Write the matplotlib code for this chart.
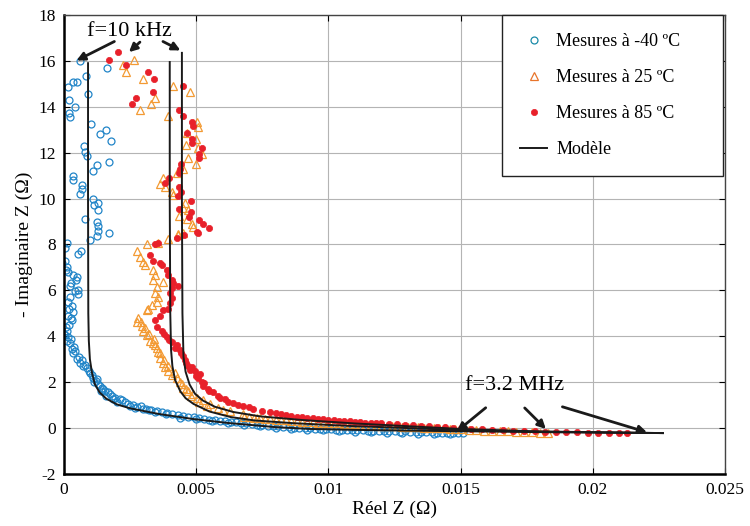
import numpy as np
import matplotlib
matplotlib.use('Agg')
import matplotlib.pyplot as plt

plt.rcParams['font.family'] = ['Liberation Serif', 'DejaVu Serif']
plt.rcParams['axes.unicode_minus'] = False

# Measurements at -40 C (Re, -Im)
m40_pts = [
    (0.00060, 16.0), (0.00049, 15.1), (0.00034, 15.1), (0.00015, 14.85), (0.00083, 15.35),
    (0.00091, 14.55), (0.00019, 14.3), (0.00042, 14.0), (0.00019, 13.75), (0.00023, 13.55),
    (0.00163, 15.7), (0.00102, 13.25), (0.00136, 12.8), (0.00159, 13.0), (0.00178, 12.5),
    (0.00076, 12.3), (0.00079, 12.05), (0.00087, 11.85), (0.00170, 11.6), (0.00125, 11.45),
    (0.00110, 11.2), (0.00034, 11.0), (0.00034, 10.8), (0.00068, 10.6), (0.00068, 10.4),
    (0.00060, 10.2), (0.00110, 10.0), (0.00129, 9.8), (0.00113, 9.7), (0.00129, 9.5),
    (0.00079, 9.1), (0.00125, 9.0), (0.00129, 8.8), (0.00129, 8.6), (0.00125, 8.35),
    (0.00170, 8.5), (0.00098, 8.2), (0.00011, 8.05),
    (0.00004, 7.85), (0.00053, 7.6), (0.00064, 7.7), (-0.00008, 7.2), (0.00004, 7.3),
    (0.00011, 7.0), (0.00015, 6.8), (0.00034, 6.65), (0.00049, 6.6), (0.00045, 6.45),
    (0.00023, 6.2), (0.00053, 6.0), (0.00053, 5.85), (0.00023, 5.7), (0.00015, 5.5),
    (0.00030, 5.3), (0.00034, 5.05), (0.00015, 4.9), (0.00030, 4.7), (0.00019, 4.5),
    (0.00011, 4.25), (0.00004, 4.05), (0.00011, 3.8), (0.00023, 3.7), (0.00030, 3.45),
    (0.00034, 3.25), (0.00049, 3.0), (0.00060, 2.85), (0.00072, 2.7), (0.00087, 2.6),
    (0.00098, 2.4), (0.00110, 2.2), (0.00125, 2.15), (0.00129, 1.9), (0.00144, 1.75),
    (0.00155, 1.6), (0.00174, 1.5), (0.00193, 1.3), (0.00219, 1.2), (0.00242, 1.05),
    (0.00276, 0.92), (0.00299, 0.83),
    (0.00008, 6.9), (0.00026, 6.3), (0.00040, 5.95), (0.00020, 5.2), (0.00026, 4.8),
    (0.00008, 4.4), (0.00000, 4.1), (0.00015, 3.95), (0.00038, 3.55), (0.00026, 3.9),
    (0.00042, 3.35), (0.00057, 3.1), (0.00068, 2.95), (0.00080, 2.75), (0.00095, 2.5),
    (0.00106, 2.3), (0.00120, 2.05), (0.00136, 1.85), (0.00148, 1.7), (0.00165, 1.55),
    (0.00182, 1.4), (0.00210, 1.25), (0.00230, 1.12), (0.00260, 1.0), (0.00290, 0.95),
    (0.00115, 2.0), (0.00140, 1.6), (0.00160, 1.4), (0.00185, 1.25), (0.00200, 1.15),
    (0.00250, 0.95), (0.00270, 0.88), (0.00320, 0.78), (0.00345, 0.72), (0.00385, 0.62),
    (0.0031, 0.85), (0.0033, 0.80), (0.0035, 0.74), (0.0037, 0.70), (0.0039, 0.66),
    (0.0041, 0.60), (0.0043, 0.58), (0.0045, 0.53), (0.0047, 0.50), (0.0049, 0.47),
    (0.0051, 0.43), (0.0053, 0.41), (0.0055, 0.37), (0.0057, 0.35), (0.0059, 0.32),
    (0.0061, 0.30), (0.0063, 0.27), (0.0065, 0.25), (0.0067, 0.22), (0.0069, 0.20),
    (0.0071, 0.18), (0.0073, 0.15), (0.0075, 0.13), (0.0077, 0.11), (0.0079, 0.10),
    (0.0081, 0.08), (0.0083, 0.05), (0.0085, 0.04), (0.0087, 0.02), (0.0089, 0.01),
    (0.0091, -0.01), (0.0093, -0.02), (0.0095, -0.03), (0.0097, -0.05), (0.0099, -0.04),
    (0.0101, -0.06), (0.0103, -0.07), (0.0105, -0.08), (0.0107, -0.07), (0.0109, -0.09),
    (0.0111, -0.10), (0.0113, -0.10), (0.0115, -0.12), (0.0117, -0.11), (0.0119, -0.13),
    (0.0121, -0.14), (0.0123, -0.13), (0.0125, -0.15), (0.0127, -0.16), (0.0129, -0.15),
    (0.0131, -0.17), (0.0133, -0.18), (0.0135, -0.17), (0.0137, -0.19), (0.0139, -0.18),
    (0.0141, -0.20), (0.0143, -0.21), (0.0145, -0.20), (0.0147, -0.22), (0.0149, -0.21),
    (0.0151, -0.23),
    (0.0044, 0.45), (0.0050, 0.38), (0.0056, 0.30), (0.0062, 0.22), (0.0068, 0.15),
    (0.0074, 0.08), (0.0080, 0.02), (0.0086, -0.03), (0.0092, -0.08), (0.0098, -0.10),
    (0.0104, -0.13), (0.0110, -0.16), (0.0116, -0.18), (0.0122, -0.20), (0.0128, -0.22),
    (0.0134, -0.24), (0.0140, -0.25), (0.0146, -0.26),
]

# Measurements at 25 C
m25_pts = [
    (0.00265, 16.05), (0.00223, 15.8), (0.00234, 15.5), (0.00299, 15.2), (0.00344, 14.4),
    (0.00329, 14.1), (0.00287, 13.85), (0.00412, 14.9), (0.00476, 14.65), (0.00393, 13.6),
    (0.00503, 13.35), (0.00507, 13.1), (0.00465, 12.85), (0.00499, 12.6), (0.00461, 12.35),
    (0.00507, 12.2), (0.00522, 11.95), (0.00469, 11.75), (0.00499, 11.5), (0.00450, 11.3),
    (0.00427, 11.1), (0.00374, 10.9), (0.00363, 10.65), (0.00382, 10.5), (0.00408, 10.3),
    (0.00412, 10.15), (0.00457, 9.8), (0.00450, 9.6), (0.00469, 9.5), (0.00435, 9.25),
    (0.00465, 9.1), (0.00484, 8.9), (0.00488, 8.75), (0.00450, 8.5), (0.00431, 8.4),
    (0.00431, 8.45), (0.00393, 8.25), (0.00314, 8.0), (0.00355, 8.05), (0.00276, 7.7),
    (0.00287, 7.45), (0.00299, 7.25), (0.00306, 7.1), (0.00336, 6.9), (0.00344, 6.65),
    (0.00336, 6.45), (0.00374, 6.35), (0.00352, 6.15), (0.00344, 5.9), (0.00355, 5.7),
    (0.00352, 5.5), (0.00333, 5.35), (0.00318, 5.2), (0.00314, 5.15),
    (0.00280, 4.8), (0.00276, 4.6), (0.00295, 4.45), (0.00299, 4.25), (0.00314, 4.05),
    (0.00325, 3.8), (0.00336, 3.7), (0.00352, 3.5), (0.00355, 3.3), (0.00363, 3.05),
    (0.00374, 2.85), (0.00382, 2.65), (0.00393, 2.5), (0.00408, 2.3), (0.00427, 2.2),
    (0.00438, 2.0), (0.00450, 1.75), (0.00469, 1.6), (0.00488, 1.5), (0.00503, 1.3),
    (0.00525, 1.2), (0.00552, 1.05), (0.00582, 0.88), (0.00627, 0.75), (0.00677, 0.6),
    (0.00730, 0.45),
    (0.00290, 4.6), (0.00305, 4.35), (0.00320, 4.1), (0.00340, 3.9), (0.00345, 3.6),
    (0.00365, 3.25), (0.00380, 2.95), (0.00395, 2.7), (0.00420, 2.4), (0.00445, 1.9),
    (0.00460, 1.7), (0.00480, 1.4), (0.00510, 1.15), (0.00540, 0.95), (0.00600, 0.80),
    (0.0068, 0.50), (0.0070, 0.47), (0.0072, 0.44), (0.0074, 0.42), (0.0076, 0.40),
    (0.0078, 0.38), (0.0080, 0.36), (0.0082, 0.34), (0.0084, 0.33), (0.0086, 0.31),
    (0.0088, 0.30), (0.0090, 0.28), (0.0092, 0.27), (0.0094, 0.26), (0.0096, 0.24),
    (0.0098, 0.23), (0.0100, 0.22), (0.0102, 0.20), (0.0104, 0.20), (0.0106, 0.18),
    (0.0108, 0.17), (0.0110, 0.16), (0.0112, 0.15), (0.0114, 0.13), (0.0116, 0.13),
    (0.0118, 0.11), (0.0120, 0.10), (0.0122, 0.09), (0.0124, 0.08), (0.0126, 0.07),
    (0.0128, 0.06), (0.0130, 0.05), (0.0132, 0.04), (0.0134, 0.03), (0.0136, 0.02),
    (0.0138, 0.01), (0.0140, 0.00), (0.0142, -0.01), (0.0144, -0.02), (0.0146, -0.04),
    (0.0148, -0.05), (0.0150, -0.06), (0.0153, -0.08), (0.0156, -0.10), (0.0159, -0.11),
    (0.0162, -0.13), (0.0165, -0.14), (0.0168, -0.15), (0.0171, -0.17), (0.0174, -0.18),
    (0.0177, -0.19), (0.0180, -0.20), (0.0183, -0.20),
]

# Measurements at 85 C
m85_pts = [
    (0.00204, 16.4), (0.00170, 16.05), (0.00234, 15.8), (0.00318, 15.5), (0.00340, 15.2),
    (0.00336, 14.65), (0.00272, 14.4), (0.00257, 14.1), (0.00450, 14.9), (0.00435, 13.85),
    (0.00450, 13.6), (0.00484, 13.35), (0.00488, 13.15), (0.00465, 12.85), (0.00484, 12.6),
    (0.00484, 12.4), (0.00522, 12.2), (0.00510, 11.95), (0.00510, 11.75), (0.00442, 11.5),
    (0.00438, 11.3), (0.00435, 11.1), (0.00397, 10.9), (0.00382, 10.7), (0.00435, 10.5),
    (0.00442, 10.3), (0.00431, 10.1), (0.00480, 9.9), (0.00435, 9.55), (0.00480, 9.4),
    (0.00473, 9.2), (0.00510, 9.05), (0.00525, 8.9), (0.00503, 8.55), (0.00548, 8.7),
    (0.00454, 8.4), (0.00427, 8.3),
    (0.00507, 8.5), (0.00355, 8.05), (0.00344, 8.0), (0.00325, 7.55), (0.00336, 7.3),
    (0.00363, 7.2), (0.00370, 7.1), (0.00389, 6.9), (0.00393, 6.65), (0.00408, 6.45),
    (0.00412, 6.3), (0.00431, 6.2), (0.00408, 6.1), (0.00401, 5.9), (0.00408, 5.65),
    (0.00401, 5.45), (0.00393, 5.2), (0.00374, 5.15), (0.00363, 4.9), (0.00344, 4.7),
    (0.00352, 4.4), (0.00370, 4.25), (0.00389, 3.95), (0.00408, 3.75), (0.00427, 3.6),
    (0.00438, 3.4), (0.00450, 3.15), (0.00457, 2.95), (0.00469, 2.7), (0.00484, 2.65),
    (0.00495, 2.5), (0.00514, 2.35), (0.00507, 2.2), (0.00522, 2.0), (0.00525, 1.85),
    (0.00544, 1.7), (0.00563, 1.55), (0.00582, 1.4), (0.00609, 1.25), (0.00639, 1.1),
    (0.00677, 0.95), (0.00714, 0.83),
    (0.00380, 4.1), (0.00398, 3.85), (0.00418, 3.5), (0.00442, 3.25), (0.00462, 2.85),
    (0.00476, 2.55), (0.00500, 2.25), (0.00530, 1.95), (0.00550, 1.6), (0.00590, 1.3),
    (0.00620, 1.15), (0.00660, 1.0), (0.00700, 0.90),
    (0.0075, 0.75), (0.0078, 0.68), (0.0080, 0.64), (0.0082, 0.60), (0.0084, 0.56),
    (0.0086, 0.52), (0.0088, 0.50), (0.0090, 0.47), (0.0092, 0.45), (0.0094, 0.42),
    (0.0096, 0.40), (0.0098, 0.38), (0.0100, 0.36), (0.0102, 0.34), (0.0104, 0.32),
    (0.0106, 0.30), (0.0108, 0.29), (0.0110, 0.27), (0.0112, 0.26), (0.0114, 0.24),
    (0.0116, 0.22), (0.0118, 0.21), (0.0120, 0.20), (0.0123, 0.18), (0.0126, 0.16),
    (0.0129, 0.14), (0.0132, 0.12), (0.0135, 0.10), (0.0138, 0.08), (0.0141, 0.06),
    (0.0144, 0.04), (0.0147, 0.02), (0.0150, 0.00), (0.0154, -0.03), (0.0158, -0.06),
    (0.0162, -0.08), (0.0166, -0.10), (0.0170, -0.12), (0.0174, -0.13), (0.0178, -0.15),
    (0.0182, -0.16), (0.0186, -0.17), (0.0190, -0.19), (0.0194, -0.19), (0.0198, -0.20),
    (0.0202, -0.20), (0.0206, -0.21), (0.0210, -0.21), (0.0213, -0.22),
]

# Model curves
model_m40 = [
    (0.00091, 15.9), (0.00091, 10.0), (0.00092, 5.0), (0.00094, 3.8), (0.00098, 3.0),
    (0.00106, 2.4), (0.00117, 1.9), (0.00135, 1.55), (0.00160, 1.28), (0.00200, 1.03),
    (0.00250, 0.86), (0.00360, 0.61), (0.00490, 0.39), (0.00620, 0.22), (0.00800, 0.04),
    (0.00930, -0.04), (0.01100, -0.08), (0.01300, -0.11), (0.01500, -0.14), (0.01900, -0.19),
    (0.02265, -0.22),
]
model_25 = [
    (0.00400, 15.95), (0.00400, 10.0), (0.00402, 5.0), (0.00405, 3.4), (0.00410, 2.7),
    (0.00420, 2.1), (0.00440, 1.6), (0.00460, 1.3), (0.00490, 1.05), (0.00550, 0.72),
    (0.00630, 0.48), (0.00720, 0.33), (0.00870, 0.21), (0.01100, 0.08), (0.01300, 0.00),
    (0.01500, -0.09), (0.01800, -0.16), (0.02265, -0.22),
]
model_85 = [
    (0.00446, 16.35), (0.00446, 10.0), (0.00448, 5.0), (0.00452, 3.1), (0.00460, 2.45),
    (0.00475, 1.9), (0.00495, 1.5), (0.00525, 1.2), (0.00570, 0.93), (0.00640, 0.70),
    (0.00740, 0.51), (0.00900, 0.35), (0.01100, 0.20), (0.01300, 0.08), (0.01500, -0.04),
    (0.01800, -0.15), (0.02265, -0.22),
]

x_ticks = [0, 0.005, 0.01, 0.015, 0.02, 0.025]
x_ticklabels = ['0', '0.005', '0.01', '0.015', '0.02', '0.025']
y_ticks = list(range(-2, 19, 2))

c_blue = '#2185c8'
c_orange = '#f39a33'
c_red = '#e8202a'

fig = plt.figure(figsize=(7.5, 5.26), dpi=100)
ax = fig.add_axes([0.0853, 0.099, 0.8814, 0.8725])

b = np.array(m40_pts)
o = np.array(m25_pts)
r = np.array(m85_pts)
ax.plot(b[:, 0], b[:, 1], 'o', ls='none', ms=5, mfc='none', mec=c_blue, mew=0.9,
        label='Mesures à -40 ºC')
ax.plot(o[:, 0], o[:, 1], '^', ls='none', ms=5.5, mfc='none', mec=c_orange, mew=0.9,
        label='Mesures à 25 ºC')
ax.plot(r[:, 0], r[:, 1], 'o', ls='none', ms=4.5, mfc=c_red, mec=c_red, mew=0.5,
        label='Mesures à 85 ºC')

for i, curve in enumerate([model_m40, model_25, model_85]):
    c = np.array(curve)
    ax.plot(c[:, 0], c[:, 1], '-', color='#1a1a1a', lw=1.4,
            label='Modèle' if i == 0 else None)

ax.set_xlim(0, 0.025)
ax.set_ylim(-2, 18)
ax.set_xticks(x_ticks)
ax.set_xticklabels(x_ticklabels)
ax.set_yticks(y_ticks)
ax.tick_params(direction='in', top=True, right=True, labelsize=12.5, length=4, pad=6)
ax.grid(True, color='#b4b4b4', lw=0.8)
for s in ['left', 'bottom']:
    ax.spines[s].set_linewidth(1.8)
for s in ['top', 'right']:
    ax.spines[s].set_linewidth(1.0)
    ax.spines[s].set_color('#444444')

ax.set_xlabel('Réel Z (Ω)', fontsize=14, labelpad=2)
ax.set_ylabel('- Imaginaire Z (Ω)', fontsize=14, labelpad=4)

# annotations
arrow_kw = dict(arrowstyle='-|>', color='#1a1a1a', lw=2.0, mutation_scale=12)
ax.text(0.00248, 17.3, 'f=10 kHz', fontsize=16, ha='center', va='center')
for tip, start in [((0.00038, 15.96), (0.00200, 16.9)),
                   ((0.00238, 16.3), (0.00295, 16.9)),
                   ((0.00450, 16.4), (0.00365, 16.9))]:
    ax.annotate('', xy=tip, xytext=start, arrowprops=arrow_kw)

ax.text(0.01705, 1.85, 'f=3.2 MHz', fontsize=16, ha='center', va='center')
for tip, start in [((0.01478, -0.22), (0.01603, 0.96)),
                   ((0.01830, -0.13), (0.01735, 0.96)),
                   ((0.02215, -0.22), (0.01875, 0.96))]:
    ax.annotate('', xy=tip, xytext=start, arrowprops=arrow_kw)

leg = ax.legend(loc='upper left', bbox_to_anchor=(0.663, 0.0, 0.334, 1.0), mode='expand',
                fontsize=13, borderaxespad=0.0, fancybox=False,
                edgecolor='#222222', framealpha=1, labelspacing=1.05, borderpad=1.0,
                handlelength=1.5, handletextpad=0.5, numpoints=1)
leg.get_frame().set_linewidth(1.0)
leg.legend_handles[0].set_markeredgecolor('#1a8aa8')
leg.legend_handles[1].set_markeredgecolor('#e8742a')
leg.legend_handles[2].set_color('#d11f2a')

fig.savefig('out.png', dpi=100)
